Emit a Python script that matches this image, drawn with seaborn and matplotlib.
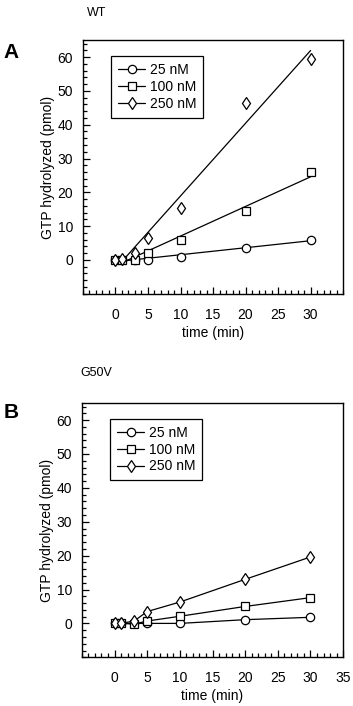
import numpy as np
import pandas as pd
import seaborn as sns
import matplotlib.pyplot as plt
from matplotlib.lines import Line2D
from matplotlib.ticker import MultipleLocator

# time points (min)
time = [0, 1, 3, 5, 10, 20, 30]
concs = ['25 nM', '100 nM', '250 nM']

# WT, GTP hydrolyzed (pmol)
wt_25 = [0, 0, 0, 0, 1, 3.5, 6]
wt_100 = [0, 0, 0, 2, 6, 14.5, 26]
wt_250 = [0, 0.3, 2, 6.5, 15.5, 46.5, 59.5]

# G50V, GTP hydrolyzed (pmol)
g50v_25 = [0, 0, 0, 0, 0, 1.1, 1.8]
g50v_100 = [0, 0, -0.2, 0.7, 2.1, 5, 7.6]
g50v_250 = [0, 0, 0.7, 3.5, 6.3, 13, 19.6]

yticks = [0, 10, 20, 30, 40, 50, 60]
xticksA = [0, 5, 10, 15, 20, 25, 30]
xticksB = [0, 5, 10, 15, 20, 25, 30, 35]

def longTable(vals):
    rows = []
    for c, v in zip(concs, vals):
        for t, y in zip(time, v):
            rows.append((t, y, c))
    return pd.DataFrame(rows, columns=['time', 'pmol', 'conc'])

wtTable = longTable([wt_25, wt_100, wt_250])
g50vTable = longTable([g50v_25, g50v_100, g50v_250])

sns.set_style('ticks')
plt.rcParams['font.family'] = ['Liberation Sans Narrow', 'Liberation Sans', 'DejaVu Sans']
plt.rcParams['font.size'] = 10
plt.rcParams['text.color'] = 'black'
plt.rcParams['axes.labelcolor'] = 'black'
plt.rcParams['xtick.color'] = 'black'
plt.rcParams['ytick.color'] = 'black'

markerMap = {'25 nM': 'o', '100 nM': 's', '250 nM': 'd'}
sizeMap = {'25 nM': 6, '100 nM': 6, '250 nM': 6}

fig = plt.figure(figsize=(3.53, 7.06), dpi=100)
axA = fig.add_axes([0.235, 0.584, 0.737, 0.359])
axB = fig.add_axes([0.232, 0.069, 0.740, 0.36])

# panel A: points + linear fit
for c in concs:
    sub = wtTable[wtTable.conc == c]
    axA.plot(sub.time, sub.pmol, linestyle='none', marker=markerMap[c],
             markersize=sizeMap[c], markerfacecolor='white', markeredgecolor='black',
             markeredgewidth=0.9, zorder=3)
    slope, icpt = np.polyfit(sub.time, sub.pmol, 1)
    xs = np.array([1, 30])
    axA.plot(xs, slope * xs + icpt, color='black', lw=0.9, zorder=2)

# panel B: connected points
sns.lineplot(data=g50vTable, x='time', y='pmol', style='conc', markers=markerMap,
             dashes=False, color='black', lw=0.9, ax=axB, legend=False,
             markerfacecolor='white', markeredgecolor='black', markeredgewidth=0.9,
             markersize=6)

handles = [Line2D([0], [0], color='black', lw=0.9, marker=markerMap[c],
                  markersize=sizeMap[c], markerfacecolor='white',
                  markeredgecolor='black', markeredgewidth=0.9) for c in concs]

for ax, xt in ((axA, xticksA), (axB, xticksB)):
    ax.set_xlim(-5, 35)
    ax.set_ylim(-10, 65)
    ax.set_xticks(xt)
    ax.set_yticks(yticks)
    ax.xaxis.set_minor_locator(MultipleLocator(1))
    ax.yaxis.set_minor_locator(MultipleLocator(2))
    ax.tick_params(which='both', direction='in', top=False, right=False, labelsize=10)
    ax.tick_params(axis='y', pad=7)
    ax.tick_params(axis='x', pad=10)
    ax.tick_params(which='major', length=5, width=0.9)
    ax.tick_params(which='minor', length=3, width=0.9)
    for s in ax.spines.values():
        s.set_linewidth(1.0)
        s.set_color('black')
    ax.set_xlabel('time (min)', fontsize=10, labelpad=3)
    ax.set_ylabel('GTP hydrolyzed (pmol)', fontsize=10, labelpad=2)
    leg = ax.legend(handles, concs, loc='upper left', bbox_to_anchor=(0.08, 0.965),
                    fancybox=False, framealpha=1, edgecolor='black', fontsize=10,
                    handlelength=2.0, handletextpad=0.3, borderpad=0.5,
                    labelspacing=0.2)
    leg.get_frame().set_linewidth(0.9)

fig.text(0.245, 0.982, 'WT', fontsize=9, va='center')
fig.text(0.01, 0.926, 'A', fontsize=15, fontweight='bold', va='center')
fig.text(0.228, 0.472, 'G50V', fontsize=9, va='center')
fig.text(0.01, 0.416, 'B', fontsize=15, fontweight='bold', va='center')

fig.savefig('out.png', dpi=100)
